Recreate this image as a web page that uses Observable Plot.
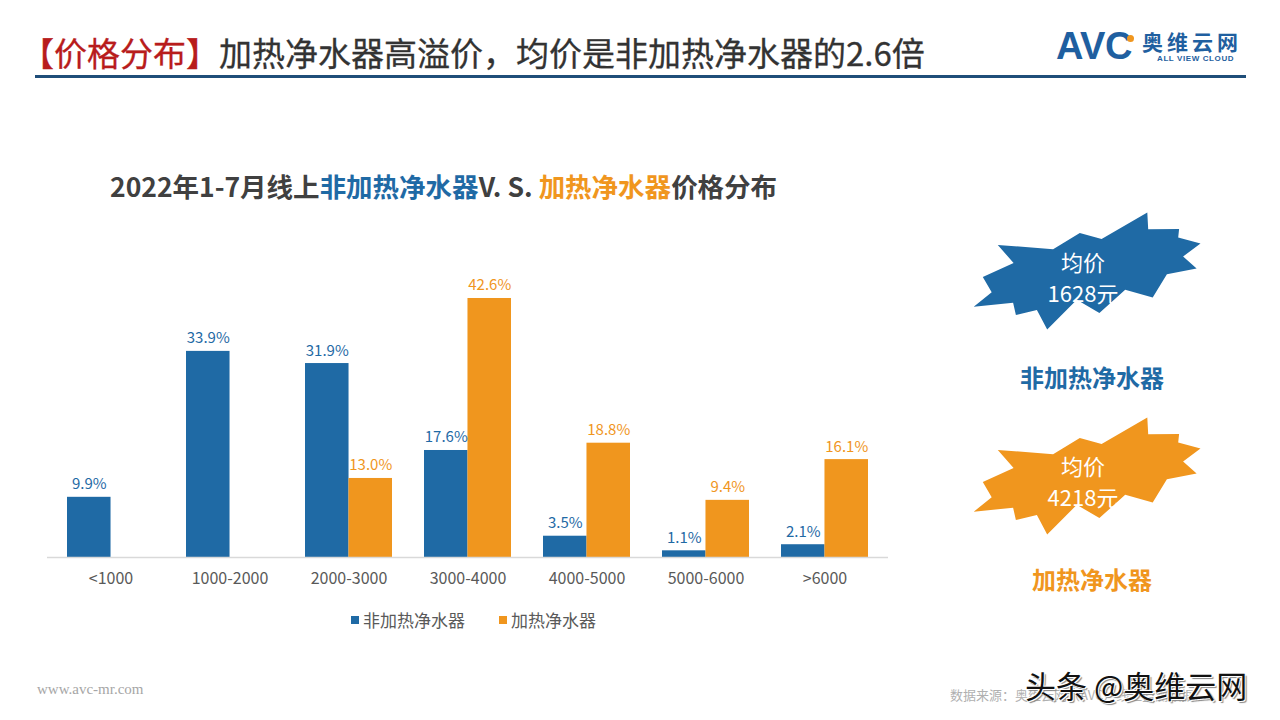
<!DOCTYPE html>
<html>
<head>
<meta charset="utf-8">
<script src="https://cdn.jsdelivr.net/npm/d3@7"></script>
<script src="https://cdn.jsdelivr.net/npm/@observablehq/plot@0.6"></script>
<style>
  html, body { margin:0; padding:0; background:#fff; }
  #page { position:relative; width:1280px; height:720px; overflow:hidden; font-family:"Noto Sans CJK SC","Noto Sans",sans-serif; }
  .abs { position:absolute; white-space:nowrap; }
  .c { transform:translate(-50%,-50%); }
  #chart { position:absolute; left:0; top:0; }
</style>
</head>
<body>
<div id="page">
  <div class="abs" style="left:21px;top:30px;font-size:33px;line-height:44px;color:#333;-webkit-text-stroke:0.3px #333;">
    <span style="color:#b81c1c;-webkit-text-stroke:0.3px #b81c1c;">【价格分布】</span>加热净水器高溢价，均价是非加热净水器的2.6倍</div>
  <div class="abs" style="left:35px;top:75px;width:1211px;height:3px;background:#1f4e79;"></div>

  <div class="abs" style="left:1056px;top:25px;font-size:38px;font-weight:bold;color:#1f5fa0;font-family:'Liberation Sans',sans-serif;letter-spacing:-0.5px;">AVC</div>
  <div class="abs" style="left:1127px;top:35px;width:7px;height:7px;border-radius:50%;background:#f0961e;"></div>
  <div class="abs" style="left:1142px;top:29px;font-size:21px;line-height:24px;font-weight:bold;color:#1f5fa0;letter-spacing:4px;">奥维云网</div>
  <div class="abs" style="left:1157px;top:54px;font-size:8px;line-height:9px;font-weight:bold;color:#1f5fa0;letter-spacing:0.6px;font-family:'Liberation Sans',sans-serif;">ALL VIEW CLOUD</div>

  <div class="abs" style="left:110px;top:168px;font-size:26.5px;line-height:36px;font-weight:bold;color:#404040;">2022年1-7月线上<span style="color:#1f6aa5;">非加热净水器</span>V. S. <span style="color:#f0961e;">加热净水器</span>价格分布</div>

  <svg id="stars" class="abs" style="left:0;top:0;" width="1280" height="720"></svg>
  <div id="chart"></div>

  <div class="abs c" style="left:1083px;top:261px;font-size:22px;color:#fff;">均价</div>
  <div class="abs c" style="left:1083px;top:292px;font-size:22px;color:#fff;">1628元</div>
  <div class="abs c" style="left:1092px;top:376px;font-size:24px;font-weight:bold;color:#1f6aa5;">非加热净水器</div>
  <div class="abs c" style="left:1083px;top:465px;font-size:22px;color:#fff;">均价</div>
  <div class="abs c" style="left:1083px;top:496px;font-size:22px;color:#fff;">4218元</div>
  <div class="abs c" style="left:1092px;top:578px;font-size:24px;font-weight:bold;color:#f0961e;">加热净水器</div>

  <div id="legend" class="abs" style="left:351px;top:607px;font-size:17px;color:#595959;"></div>

  <div class="abs" style="left:37px;top:681px;font-size:15px;color:#a6a6a6;font-family:'Liberation Serif',serif;">www.avc-mr.com</div>
  <div class="abs" style="left:950px;top:685px;font-size:13px;color:#b0b0b0;">数据来源：奥维云网（AVC）线上监测数据</div>
  <div class="abs" style="left:1025px;top:662px;font-size:31px;color:#111;text-shadow:1px 1px 0 #fff,-1px -1px 0 #fff,2px 2px 1px #888;">头条 @奥维云网</div>
</div>
<script>
// ---- data ----
const categories = ["<1000", "1000-2000", "2000-3000", "3000-4000", "4000-5000", "5000-6000", ">6000"];
const nonHeatedShare = [9.9, 33.9, 31.9, 17.6, 3.5, 1.1, 2.1];
const heatedShare = [null, null, 13.0, 42.6, 18.8, 9.4, 16.1];
const seriesNames = ["非加热净水器", "加热净水器"];
const seriesColors = ["#1f6aa5", "#f0961e"];

const rows = [];
categories.forEach((c, i) => {
  if (nonHeatedShare[i] != null) rows.push({cat: c, series: seriesNames[0], value: nonHeatedShare[i]});
  if (heatedShare[i] != null) rows.push({cat: c, series: seriesNames[1], value: heatedShare[i]});
});
const rowsA = rows.filter(d => d.series === seriesNames[0]);
const rowsB = rows.filter(d => d.series === seriesNames[1]);

const W = 1280, H = 720, mL = 47, mR = 392, mB = 163;
const yMax = 45, pxPerUnit = 6.08;
const mT = H - mB - yMax * pxPerUnit;
const padIn = 0.273, padOut = 0.153;
const bw = d3.scaleBand().domain(categories).range([mL, W - mR]).paddingInner(padIn).paddingOuter(padOut).bandwidth();
const half = bw / 2;

const chart = Plot.plot({
  width: W, height: H,
  marginLeft: mL, marginRight: mR, marginTop: mT, marginBottom: mB,
  style: {fontFamily: "'Noto Sans CJK SC','Noto Sans',sans-serif", fontSize: "16px", color: "#595959", background: "transparent"},
  x: {domain: categories, paddingInner: padIn, paddingOuter: padOut, tickSize: 0, tickPadding: 15, label: null},
  y: {domain: [0, yMax], axis: null},
  color: {domain: seriesNames, range: seriesColors},
  marks: [
    Plot.barY(rowsA, {x: "cat", y: "value", fill: "series", insetRight: half}),
    Plot.barY(rowsB, {x: "cat", y: "value", fill: "series", insetLeft: half}),
    Plot.ruleY([0], {stroke: "#d9d9d9", strokeWidth: 1.5}),
    Plot.text(rowsA, {x: "cat", y: "value", text: d => d.value.toFixed(1) + "%", dx: -half / 2, dy: -8, lineAnchor: "bottom", fill: seriesColors[0], fontSize: 15}),
    Plot.text(rowsB, {x: "cat", y: "value", text: d => d.value.toFixed(1) + "%", dx: half / 2, dy: -8, lineAnchor: "bottom", fill: seriesColors[1], fontSize: 15})
  ]
});
document.getElementById("chart").appendChild(chart);

// legend
const lg = document.getElementById("legend");
lg.innerHTML = seriesNames.map((n, i) =>
  `<span style="display:inline-block;width:8px;height:8px;background:${seriesColors[i]};margin-right:4px;vertical-align:middle;position:relative;top:-2px;"></span><span style="margin-right:${i === 0 ? 34 : 0}px;">${n}</span>`
).join("");

// decorative explosion shapes
const seal = [[10800,5800],[14522,0],[14155,5325],[18380,4457],[16702,7315],[21097,8137],[17607,10475],[21600,13290],[16837,12942],[18145,18095],[14020,14457],[13247,19737],[10532,14935],[8485,21600],[7715,15627],[4762,17617],[5667,13937],[135,14587],[3722,11775],[0,8615],[4627,7617],[370,2295],[7312,6320],[8352,2295]];
const m = {a: 222, b: -32, c: -38, d: 108};
const innerScale = 1.32;
function starPts(cx, cy) {
  return seal.map(([x, y], k) => {
    let u = x / 21600 - 0.5, v = y / 21600 - 0.5;
    if (k % 2 === 0) { u *= innerScale; v *= innerScale; }
    return [(cx + m.a * u + m.c * v).toFixed(1), (cy + m.b * u + m.d * v).toFixed(1)].join(",");
  }).join(" ");
}
const stars = d3.select("#stars");
[[1090, 272], [1090, 477]].forEach(([cx, cy], i) => {
  stars.append("polygon").attr("points", starPts(cx, cy)).attr("fill", seriesColors[i]);
});
</script>
</body>
</html>
